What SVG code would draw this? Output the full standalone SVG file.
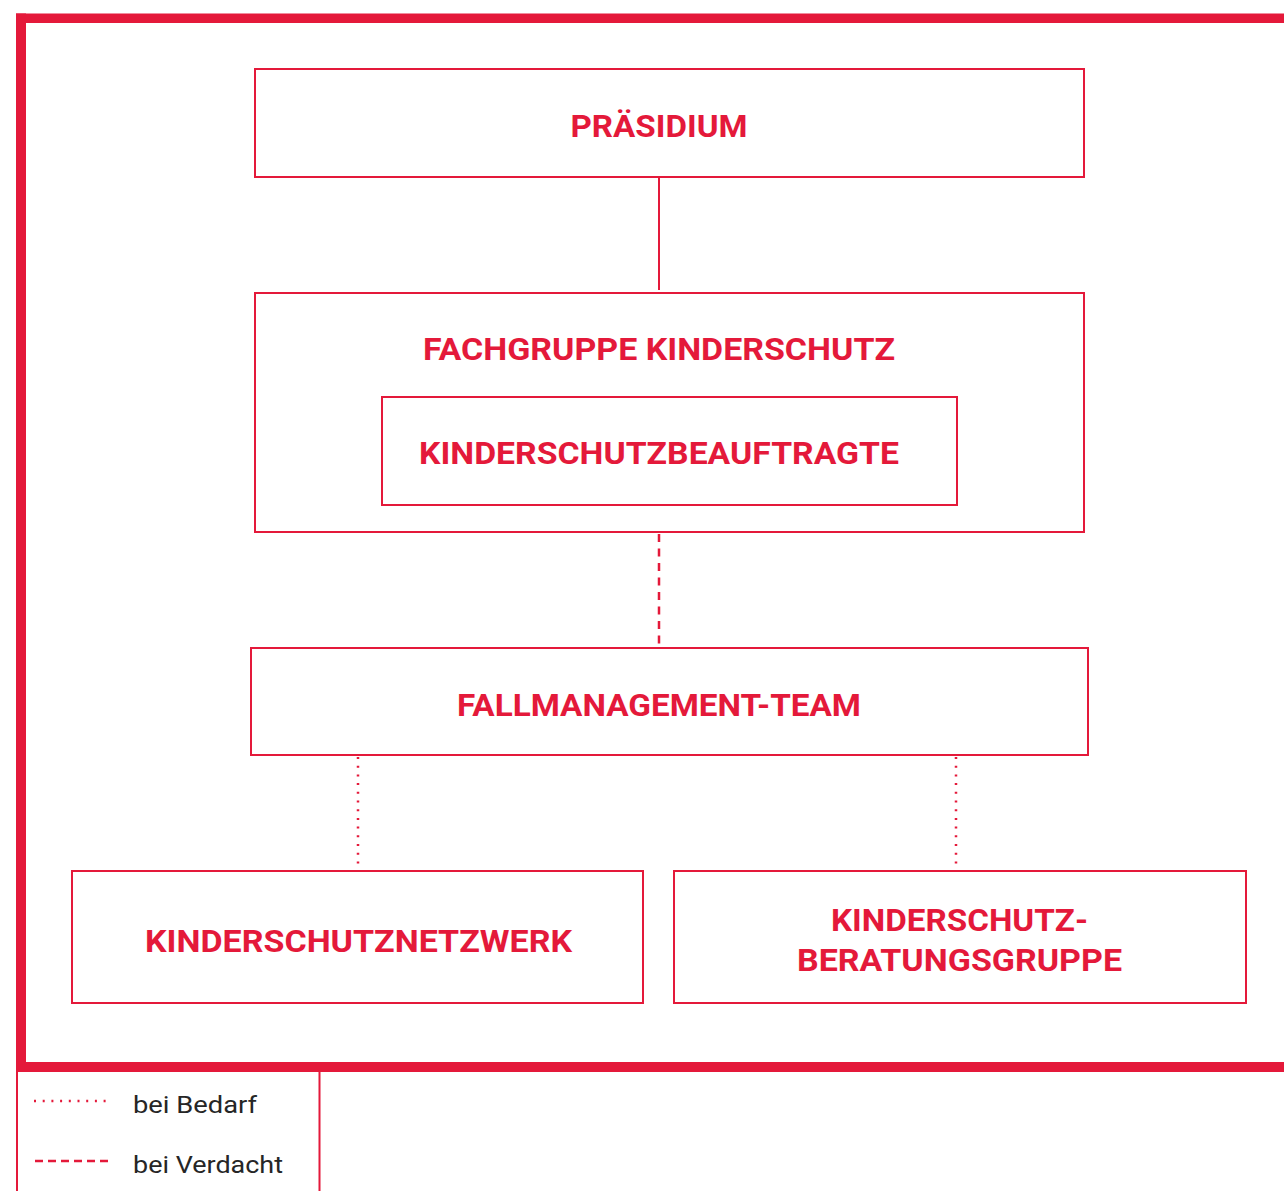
<svg xmlns="http://www.w3.org/2000/svg" width="1284" height="1191" viewBox="0 0 1284 1191">
<style>
.box{fill:#fff;stroke:#e4193a;stroke-width:2}
.t{font-family:Roboto,"Liberation Sans",sans-serif;font-weight:700;font-size:32px;fill:#e4193a;text-anchor:middle}
.lg{font-family:Roboto,"Liberation Sans",sans-serif;font-size:24.5px;fill:#262626}
.solid{stroke:#e4193a;stroke-width:2;fill:none}
.dash{stroke:#e4193a;stroke-width:2.5;fill:none;stroke-dasharray:8 6.5}
.ldash{stroke:#e4193a;stroke-width:2.5;fill:none;stroke-dasharray:8 5}
.dot{stroke:#e4193a;stroke-width:2.5;fill:none;stroke-dasharray:2 6.7}
</style>
<rect width="1284" height="1191" fill="#fff"/>
<g id="frame">
<rect x="16" y="13.5" width="1268" height="9.5" fill="#e4193a"/>
<rect x="16" y="13.5" width="10" height="1058" fill="#e4193a"/>
<rect x="16" y="1062" width="1268" height="10" fill="#e4193a"/>
<rect x="16" y="1062" width="2" height="129" fill="#e4193a"/>
<rect x="318.5" y="1072" width="2" height="119" fill="#e4193a"/>
</g>
<g id="connectors">
<line class="solid" x1="659" y1="177" x2="659" y2="290"/>
<line class="dash" x1="659" y1="534" x2="659" y2="647"/>
<line class="dot" x1="358" y1="757" x2="358" y2="871"/>
<line class="dot" x1="956" y1="757" x2="956" y2="871"/>
</g>
<g id="praesidium">
<rect class="box" x="255" y="69" width="829" height="108"/>
<text class="t" x="659" y="137" textLength="177" lengthAdjust="spacingAndGlyphs">PRÄSIDIUM</text>
</g>
<g id="fachgruppe">
<rect class="box" x="255" y="293" width="829" height="239"/>
<text class="t" x="659" y="360" textLength="472" lengthAdjust="spacingAndGlyphs">FACHGRUPPE KINDERSCHUTZ</text>
</g>
<g id="beauftragte">
<rect class="box" x="382" y="397" width="575" height="108"/>
<text class="t" x="659" y="464" textLength="480" lengthAdjust="spacingAndGlyphs">KINDERSCHUTZBEAUFTRAGTE</text>
</g>
<g id="fallmanagement">
<rect class="box" x="251" y="648" width="837" height="107"/>
<text class="t" x="659" y="716" textLength="404" lengthAdjust="spacingAndGlyphs">FALLMANAGEMENT-TEAM</text>
</g>
<g id="netzwerk">
<rect class="box" x="72" y="871" width="571" height="132"/>
<text class="t" x="358.5" y="952" textLength="427" lengthAdjust="spacingAndGlyphs">KINDERSCHUTZNETZWERK</text>
</g>
<g id="beratungsgruppe">
<rect class="box" x="674" y="871" width="572" height="132"/>
<text class="t" x="959.5" y="931" textLength="257" lengthAdjust="spacingAndGlyphs">KINDERSCHUTZ-</text>
<text class="t" x="959.5" y="971" textLength="325" lengthAdjust="spacingAndGlyphs">BERATUNGSGRUPPE</text>
</g>
<g id="legend">
<line class="dot" x1="34" y1="1101" x2="112" y2="1101"/>
<text class="lg" x="133" y="1113" textLength="124" lengthAdjust="spacingAndGlyphs">bei Bedarf</text>
<line class="ldash" x1="35" y1="1161" x2="108" y2="1161"/>
<text class="lg" x="133" y="1173" textLength="150" lengthAdjust="spacingAndGlyphs">bei Verdacht</text>
</g>
</svg>
